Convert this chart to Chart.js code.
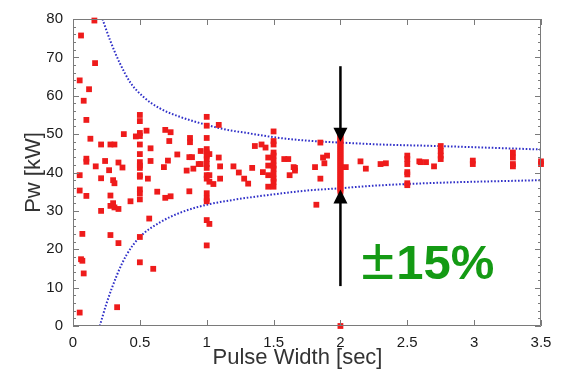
<!DOCTYPE html>
<html>
<head>
<meta charset="utf-8">
<script src="https://cdn.jsdelivr.net/npm/chart.js@4"></script>
<style>
  html, body { margin: 0; padding: 0; background: #fff; }
</style>
</head>
<body>
<canvas id="pwChart" width="563" height="373"></canvas>
<script>
const pulseWidth = [
  0.16, 0.06, 0.165, 0.05, 0.12, 0.08, 0.10, 0.13, 0.21, 0.28, 0.31, 0.38, 0.47,
  0.5, 0.5, 0.5, 0.5, 0.5, 0.5, 0.5, 0.5, 0.5, 0.5, 0.5, 0.5, 0.5, 0.5, 0.5, 0.5,
  0.55, 0.56, 0.57, 0.58, 0.58, 0.6, 0.63, 0.69, 0.73, 0.72, 0.69, 0.73, 0.68, 0.71, 0.78,
  0.875, 0.875, 0.87, 0.89, 0.87, 0.85, 0.9, 0.94,
  0.05, 0.05, 0.10, 0.10, 0.10, 0.17, 0.21, 0.21, 0.24, 0.27, 0.28, 0.28, 0.31, 0.30, 0.31, 0.30,
  0.34, 0.37, 0.34, 0.43, 0.28, 0.34, 0.06, 0.07, 0.07, 0.08, 0.05, 0.33,
  1.0, 1.0, 1.0, 1.0, 1.0, 1.0, 1.0, 1.0, 1.0, 1.0, 1.0, 1.0, 1.0, 1.0, 1.0, 1.02, 1.0,
  0.955, 0.955, 1.02, 1.02, 1.02, 1.09, 1.09, 1.1, 1.1, 1.05,
  1.2, 1.24, 1.28, 1.31, 1.34, 1.36, 1.41, 1.44, 1.42,
  1.46, 1.46, 1.46, 1.46,
  1.5, 1.5, 1.5, 1.5, 1.5, 1.5, 1.5, 1.5, 1.5, 1.5, 1.5, 1.5,
  1.58, 1.61, 1.65, 1.66, 1.62, 1.66,
  1.82, 1.85, 1.87, 1.9, 1.88, 1.81, 1.85,
  2, 2, 2, 2, 2, 2, 2, 2, 2, 2, 2, 2, 2, 2, 2, 2,
  2, 2, 2, 2, 2, 2, 2, 2, 2, 2, 2, 2, 2, 2, 2, 2, 2,
  2.04, 2.15, 2.19, 2.30, 2.34,
  2.5, 2.5, 2.5, 2.5, 2.5, 2.5, 2.5,
  2.59, 2.6, 2.64, 2.70, 2.75, 2.75, 2.75, 2.75,
  2.99, 2.99, 3.29, 3.29, 3.29, 3.29, 3.5, 3.5
];
const powerKW = [
  79.6, 75.7, 68.5, 64, 61.7, 58.7, 53.7, 48.8, 47.3, 47.3, 47.3, 50, 49.4,
  55, 53.4, 50.3, 49.5, 47.3, 44.8, 42.7, 41.8, 41.2, 39.3, 38.9, 35.6, 34.6, 33, 23.2, 16.6,
  50.9, 38.4, 28, 46.3, 43, 14.9, 35, 51.1, 50.5, 48.2, 33.4, 33.8, 41.4, 43.1, 44.7,
  49, 47.9, 44, 44, 35.1, 40.5, 41, 42.2,
  39.3, 35.3, 33.9, 43.6, 42.8, 41.6, 38.5, 30, 43, 40.6, 34, 31.3, 30.9, 38, 37.2, 32,
  42.6, 41.3, 30.5, 32.5, 23.7, 21.6, 17.4, 17, 24, 13.7, 3.5, 4.9,
  54.5, 52.2, 49, 46.1, 45.2, 44.4, 43.5, 42.2, 41.2, 39.3, 38.4, 34.6, 32.5, 27.6, 21, 26.6, 33.2,
  45.6, 42.2, 44.8, 39.3, 37.6, 52.4, 43.9, 41.6, 38.4, 37,
  41.6, 40, 38.4, 37.1, 41.2, 46.9, 47.3, 46.5, 40.1,
  43.9, 41.8, 39.3, 36.3,
  50.7, 48.2, 47.3, 45.2, 44.4, 43.1, 41.8, 41, 39.7, 38.4, 37.6, 36.3,
  43.5, 43.5, 41.4, 41.2, 39.3, 40.5,
  31.6, 47.8, 43.9, 44.4, 42.4, 41.4, 38.4,
  35, 35.5, 36, 36.5, 37, 37.5, 38, 38.5, 39, 39.5, 40, 40.5, 41, 41.5, 42, 42.5,
  43, 43.5, 44, 44.5, 45, 45.5, 46, 46.5, 47, 47.5, 48, 48.5, 49, 49.5, 50, 50.5, 0,
  41.4, 42.9, 41, 42.2, 42.4,
  44.4, 43.5, 42.2, 40.1, 39.5, 37.2, 36.7,
  42.9, 42.7, 42.7, 41.6, 46.9, 45.6, 44.4, 43.5,
  43.1, 42.2, 45.2, 43.9, 42.2, 41.6, 42.9, 42.2
];

// Envelope curves (blue dotted)
const upperX = [0.22, 0.277, 0.35, 0.43, 0.53, 0.65, 0.8, 1.0, 1.17, 1.3, 1.5, 1.75, 2.0, 2.3, 2.72, 3.5];
const upperY = [80, 74.5, 68.5, 63.4, 59.6, 56.7, 54.5, 52.4, 51.0, 50.3, 49.2, 48.3, 47.8, 47.3, 46.9, 46.0];
const lowerX = [0.2, 0.25, 0.33, 0.4, 0.5, 0.65, 0.8, 1.0, 1.17, 1.3, 1.5, 1.75, 2.0, 2.22, 2.72, 3.5];
const lowerY = [0, 5.8, 13.4, 18.5, 23.2, 27.0, 29.5, 31.6, 32.7, 33.4, 34.3, 35.3, 35.9, 36.5, 37.3, 38.0];

// Axis ticks
const xTicks = [0, 0.5, 1, 1.5, 2, 2.5, 3, 3.5];
const yTicks = [0, 10, 20, 30, 40, 50, 60, 70, 80];
const yMinorStep = 2;
const xTitle = 'Pulse Width [sec]';

// Arrow annotation at 2 sec (data units)
const arrowX = 2;
const arrowTopStart = 67.7, arrowTopTip = 48;
const arrowBottomTip = 35.6, arrowBottomEnd = 10.4;
const spreadLabel = '15%';

const toPoints = (xs, ys) => xs.map((v, i) => ({ x: v, y: ys[i] }));

const FONT = '"Liberation Sans", Arial, Helvetica, sans-serif';

// frame with inward ticks, x title, arrows and the green label
const overlayPlugin = {
  id: 'plotOverlay',
  afterDraw(chart) {
    const c = chart.ctx;
    const a = chart.chartArea;
    const x = chart.scales.x, y = chart.scales.y;

    c.save();
    c.strokeStyle = '#7a7a7a';
    c.lineWidth = 1;
    c.beginPath();
    c.rect(Math.round(a.left) + 0.5, Math.round(a.top) + 0.5,
           Math.round(a.right - a.left) - 1, Math.round(a.bottom - a.top) - 1);
    xTicks.forEach(v => {
      const px = Math.round(x.getPixelForValue(v)) + 0.5;
      c.moveTo(px, a.bottom); c.lineTo(px, a.bottom - 6);
      c.moveTo(px, a.top); c.lineTo(px, a.top + 6);
    });
    for (let v = yTicks[0]; v <= yTicks[yTicks.length - 1]; v += yMinorStep) {
      const py = Math.round(y.getPixelForValue(v)) + 0.5;
      const len = v % 10 === 0 ? 6 : 3;
      c.moveTo(a.left, py); c.lineTo(a.left + len, py);
      c.moveTo(a.right, py); c.lineTo(a.right - len, py);
    }
    c.stroke();

    // x axis title sits a little left of the plot centre in the original
    c.fillStyle = '#333';
    c.font = '22px ' + FONT;
    c.textAlign = 'center';
    c.textBaseline = 'alphabetic';
    c.fillText(xTitle, 297.5, 364);
    c.restore();

    const px = x.getPixelForValue(arrowX);
    const head = 14, half = 7;
    c.save();
    c.strokeStyle = '#000';
    c.fillStyle = '#000';
    c.lineWidth = 2.5;

    const t1 = y.getPixelForValue(arrowTopTip);
    c.beginPath();
    c.moveTo(px, y.getPixelForValue(arrowTopStart));
    c.lineTo(px, t1 - head + 2);
    c.stroke();
    c.beginPath();
    c.moveTo(px, t1); c.lineTo(px - half, t1 - head); c.lineTo(px + half, t1 - head);
    c.closePath(); c.fill();

    const t2 = y.getPixelForValue(arrowBottomTip);
    c.beginPath();
    c.moveTo(px, y.getPixelForValue(arrowBottomEnd));
    c.lineTo(px, t2 + head - 2);
    c.stroke();
    c.beginPath();
    c.moveTo(px, t2); c.lineTo(px - half, t2 + head); c.lineTo(px + half, t2 + head);
    c.closePath(); c.fill();

    // ±15%
    const lx = x.getPixelForValue(2.155), ly = y.getPixelForValue(12.2);
    c.fillStyle = '#149a14';
    c.textBaseline = 'alphabetic';
    c.textAlign = 'left';
    c.font = '60px ' + FONT;
    c.fillText('\u00b1', lx, ly);
    c.font = 'bold 49px ' + FONT;
    c.fillText(spreadLabel, lx + 35, ly);
    c.restore();
  }
};

const ctx = document.getElementById('pwChart').getContext('2d');
const pwChart = new Chart(ctx, {
  type: 'scatter',
  data: {
    datasets: [{
      label: 'Pw',
      data: toPoints(pulseWidth, powerKW),
      pointStyle: 'rect',
      pointRadius: 4.1,
      backgroundColor: '#ee1b1b',
      borderColor: '#ee1b1b',
      borderWidth: 0,
      clip: false
    }, {
      label: 'upper',
      data: toPoints(upperX, upperY),
      showLine: true,
      pointRadius: 0,
      borderColor: '#3030c8',
      borderWidth: 2,
      borderDash: [1.6, 1.8],
      cubicInterpolationMode: 'monotone',
      fill: false
    }, {
      label: 'lower',
      data: toPoints(lowerX, lowerY),
      showLine: true,
      pointRadius: 0,
      borderColor: '#3030c8',
      borderWidth: 2,
      borderDash: [1.6, 1.8],
      cubicInterpolationMode: 'monotone',
      fill: false
    }]
  },
  options: {
    responsive: false,
    animation: false,
    events: [],
    layout: { padding: { top: 12, right: 22, bottom: 0, left: 0 } },
    plugins: { legend: { display: false }, tooltip: { enabled: false } },
    scales: {
      x: {
        type: 'linear', min: 0, max: 3.5,
        afterBuildTicks: s => { s.ticks = xTicks.map(v => ({ value: v })); },
        afterFit: s => { s.height = 47; },
        grid: { display: false, drawTicks: false },
        border: { display: false },
        ticks: { padding: 8, color: '#1a1a1a', font: { family: FONT, size: 15 }, maxRotation: 0,
                 callback: v => String(v) },
        title: { display: false }
      },
      y: {
        type: 'linear', min: 0, max: 80,
        afterBuildTicks: s => { s.ticks = yTicks.map(v => ({ value: v })); },
        afterFit: s => { s.width = 73; },
        grid: { display: false, drawTicks: false },
        border: { display: false },
        ticks: { padding: 10, color: '#1a1a1a', font: { family: FONT, size: 15 },
                 callback: v => String(v) },
        title: { display: true, text: 'Pw [kW]', color: '#333',
                 font: { family: FONT, size: 22 }, padding: { top: 21, bottom: 0 } }
      }
    }
  },
  plugins: [overlayPlugin]
});
</script>
</body>
</html>
